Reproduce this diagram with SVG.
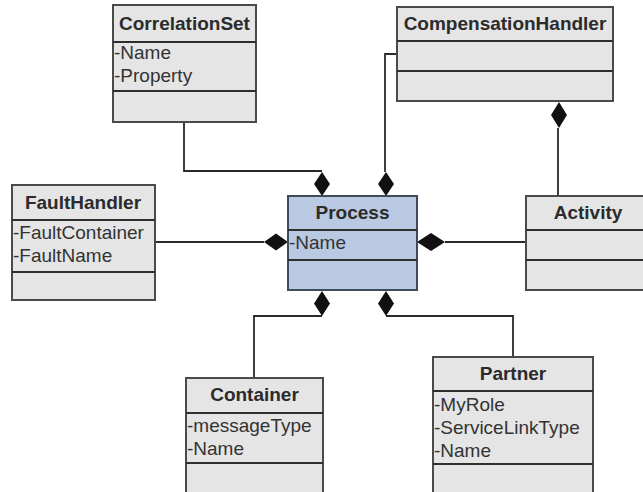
<svg xmlns="http://www.w3.org/2000/svg" width="643" height="492" viewBox="0 0 643 492">
<style>
.box{fill:#e5e5e5;stroke:#4a4a4a;stroke-width:2}
.pbox{fill:#b9c9e2;stroke:#3f4a5a;stroke-width:2}
.div{stroke:#2e2e2e;stroke-width:2}
.hd{font-family:"Liberation Sans",Arial,sans-serif;font-weight:bold;font-size:19px;fill:#2b2b2b;text-anchor:middle}
.at{font-family:"Liberation Sans",Arial,sans-serif;font-size:19px;fill:#333}
.ln{fill:none;stroke:#2a2a2a;stroke-width:1.8}
.dia{fill:#111}
</style>
<rect width="643" height="492" fill="#fff"/>
<g id="connectors">
<polyline class="ln" points="184,122 184,171 322,171"/>
<polyline class="ln" points="397,54 385,54 385,172"/>
<line class="ln" x1="155" y1="242" x2="264" y2="242"/>
<line class="ln" x1="445" y1="242" x2="526" y2="242"/>
<line class="ln" x1="558" y1="128" x2="558" y2="196"/>
<polyline class="ln" points="322,316 254,316 254,378"/>
<polyline class="ln" points="386,316 513,316 513,357"/>
<polygon class="dia" points="322,172 330,184 322,196 314,184"/>
<polygon class="dia" points="386,172 394,184 386,196 378,184"/>
<polygon class="dia" points="264,242 276,233.5 288,242 276,250.5"/>
<polygon class="dia" points="417,242 431,233 445,242 431,251"/>
<polygon class="dia" points="559,102 567,115 559,128 551,115"/>
<polygon class="dia" points="322,291 330,303.5 322,316 314,303.5"/>
<polygon class="dia" points="386,291 394,303.5 386,316 378,303.5"/>
</g>
<g id="CorrelationSet">
<rect class="box" x="113" y="5" width="143" height="117"/>
<line class="div" x1="113" y1="42" x2="256" y2="42"/>
<line class="div" x1="113" y1="91" x2="256" y2="91"/>
<text class="hd" x="184.5" y="30">CorrelationSet</text>
<text class="at" x="114" y="59">-Name</text>
<text class="at" x="114" y="82">-Property</text>
</g>
<g id="CompensationHandler">
<rect class="box" x="397" y="7" width="216" height="94"/>
<line class="div" x1="397" y1="41" x2="613" y2="41"/>
<line class="div" x1="397" y1="71" x2="613" y2="71"/>
<text class="hd" x="505" y="30">CompensationHandler</text>
</g>
<g id="FaultHandler">
<rect class="box" x="12" y="185" width="143" height="115"/>
<line class="div" x1="12" y1="220" x2="155" y2="220"/>
<line class="div" x1="12" y1="272" x2="155" y2="272"/>
<text class="hd" x="83" y="209">FaultHandler</text>
<text class="at" x="13" y="239">-FaultContainer</text>
<text class="at" x="13" y="262">-FaultName</text>
</g>
<g id="Process">
<rect class="pbox" x="288" y="196" width="129" height="94"/>
<line class="div" x1="288" y1="230" x2="417" y2="230" stroke="#1e2a3c"/>
<line class="div" x1="288" y1="260" x2="417" y2="260" stroke="#1e2a3c"/>
<text class="hd" x="352.5" y="219" fill="#1e2a40">Process</text>
<text class="at" x="289" y="249" fill="#22324e">-Name</text>
</g>
<g id="Activity">
<rect class="box" x="526" y="196" width="126" height="94"/>
<line class="div" x1="526" y1="230" x2="652" y2="230"/>
<line class="div" x1="526" y1="260" x2="652" y2="260"/>
<text class="hd" x="588" y="219">Activity</text>
</g>
<g id="Container">
<rect class="box" x="186" y="378" width="137" height="130"/>
<line class="div" x1="186" y1="413" x2="323" y2="413"/>
<line class="div" x1="186" y1="463" x2="323" y2="463"/>
<text class="hd" x="254.5" y="401">Container</text>
<text class="at" x="187" y="432">-messageType</text>
<text class="at" x="187" y="455">-Name</text>
</g>
<g id="Partner">
<rect class="box" x="433" y="357" width="160" height="150"/>
<line class="div" x1="433" y1="391" x2="593" y2="391"/>
<line class="div" x1="433" y1="464" x2="593" y2="464"/>
<text class="hd" x="513" y="380">Partner</text>
<text class="at" x="434" y="411">-MyRole</text>
<text class="at" x="434" y="434">-ServiceLinkType</text>
<text class="at" x="434" y="457">-Name</text>
</g>
</svg>
